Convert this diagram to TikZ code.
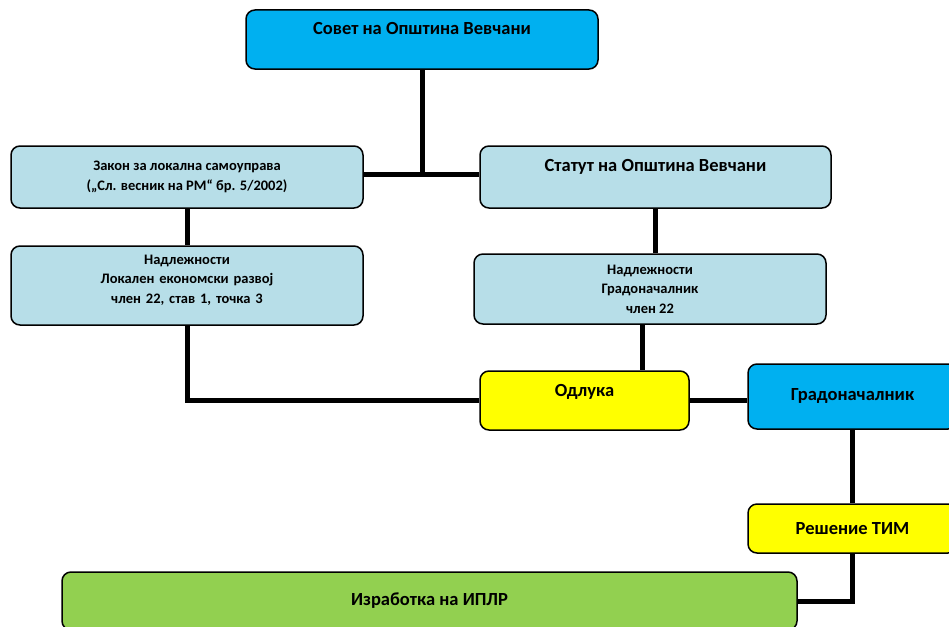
\documentclass[tikz,border=0pt]{standalone}
\usepackage{fontspec}
\setmainfont{Carlito}
\usetikzlibrary{positioning}
\definecolor{cyanbox}{HTML}{00B0F0}
\definecolor{lightbox}{HTML}{B7DEE8}
\definecolor{yellowbox}{HTML}{FFFF00}
\definecolor{greenbox}{HTML}{92D050}
\begin{document}
\begin{tikzpicture}[x=1pt,y=-1pt,line join=miter,
	box/.style={draw=black,line width=1.5pt,rounded corners=9pt,inner sep=0pt,align=center},
	big/.style={font=\fontsize{18.5}{22}\selectfont\bfseries},
	small/.style={font=\fontsize{14.5}{19.5}\selectfont\bfseries},
	link/.style={line width=5pt}]
	\useasboundingbox (0,0) rectangle (949,626);
	\node[box,big,fill=cyanbox,minimum width=352pt,minimum height=59pt,text height=12pt,text depth=21.4pt] (sovet) at (422,39.5) {Совет на Општина Вевчани};
	\node[box,small,fill=lightbox,minimum width=352pt,minimum height=62pt] (zakon) at (187,177) {Закон за локална самоуправа\\(„Сл. весник на РМ“ бр. 5/2002)};
	\node[box,big,fill=lightbox,minimum width=351pt,minimum height=62pt,text height=12pt,text depth=22.4pt] (statut) at (655.5,177) {Статут на Општина Вевчани};
	\node[box,small,fill=lightbox,minimum width=352pt,minimum height=79pt,text width=340pt,text height=11pt,text depth=54pt] (nadlL) at (187,285.5) {Надлежности\\Локален економски развој\\член 22, став 1, точка 3};
	\node[box,small,fill=lightbox,minimum width=352pt,minimum height=70pt] (nadlR) at (650,289) {Надлежности\\Градоначалник\\член 22};
	\node[box,big,fill=yellowbox,minimum width=209pt,minimum height=59pt,text height=12.5pt,text depth=20.3pt] (odluka) at (584.5,400.5) {Одлука};
	\node[box,big,fill=cyanbox,minimum width=209pt,minimum height=65pt,text height=12pt,text depth=5pt] (gradon) at (852.5,396.5) {Градоначалник};
	\node[box,big,fill=yellowbox,minimum width=209pt,minimum height=49pt] (reshenie) at (852.5,528.5) {Решение ТИМ};
	\node[box,big,fill=greenbox,minimum width=735pt,minimum height=58pt] (izrab) at (429.5,601) {Изработка на ИПЛР};
	\coordinate (join) at (422,174);
	\draw[link] (sovet) -- (join);
	\draw[link] (zakon.east |- join) -- (statut.west |- join);
	\draw[link] (zakon) -- (nadlL);
	\draw[link] (statut.south) -- (statut.south |- nadlR.north);
	\draw[link] (nadlL.south) |- (odluka.west);
	\draw[link] ([xshift=-8pt]nadlR.south) -- ([xshift=-8pt]nadlR.south |- odluka.north);
	\draw[link] (odluka.east) -- (odluka.east -| gradon.west);
	\draw[link] (gradon) -- (reshenie);
	\draw[link] (reshenie.south) |- (izrab.east);
\end{tikzpicture}
\end{document}
